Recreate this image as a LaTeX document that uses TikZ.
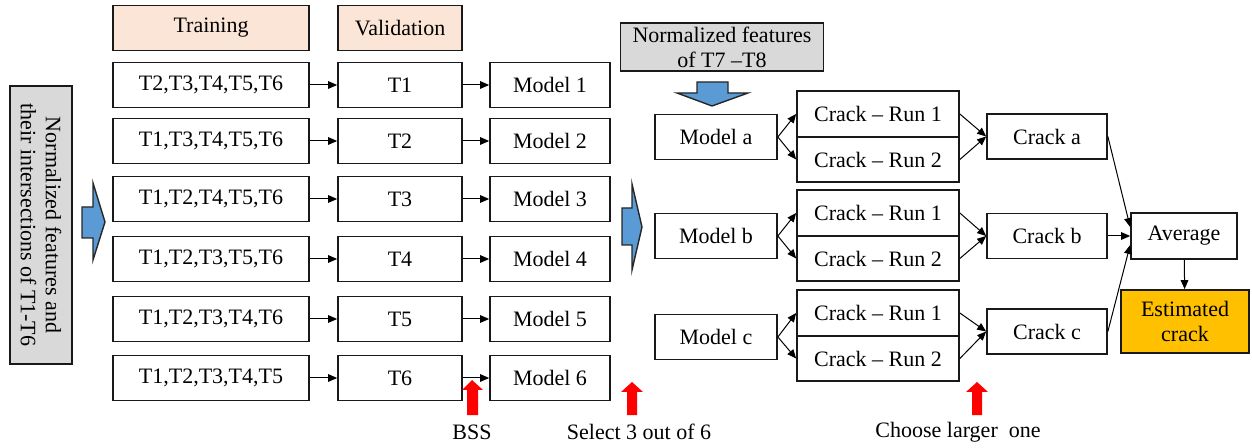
\documentclass[tikz,border=0pt]{standalone}
\usepackage{fontspec}
\setmainfont{Liberation Serif}
\usetikzlibrary{arrows.meta}

\definecolor{peach}{RGB}{251,229,214}
\definecolor{lgray}{RGB}{217,217,217}
\definecolor{blockblue}{RGB}{91,155,213}
\definecolor{gold}{RGB}{255,192,0}

\tikzset{
  box/.style={draw=black!90, line width=0.85pt, inner sep=0pt, align=center},
  trainbox/.style={box, minimum width=98pt, minimum height=22.5pt},
  valbox/.style={box, minimum width=62pt, minimum height=22.5pt},
  modelbox/.style={box, minimum width=60pt, minimum height=22.5pt},
  runbox/.style={box, minimum width=81pt, minimum height=22.75pt},
  link/.style={-{Triangle[length=4.5pt,width=3.8pt]}, line width=0.5pt},
  blockarrow/.style={fill=blockblue, draw=black!85, line width=0.7pt},
  redarrow/.style={fill=red, draw=none},
}

\begin{document}
\begin{tikzpicture}[x=0.5pt, y=-0.5pt, font=\fontsize{11}{12.5}\selectfont]
\useasboundingbox (0,0) rectangle (1252,448);

% input data
\node[box, fill=lgray, rotate=-90, minimum width=139pt, minimum height=31pt] (input) at (41,225)
  {Normalized features and\\their intersections of T1-T6};
\draw[blockarrow] (82,207) -- (93,207) -- (93,183) -- (105,222) -- (93,260) -- (93,238) -- (82,238) -- cycle;

% cross validation
\node[trainbox, fill=peach] (hdtrain) at (211,28) {Training};
\node[valbox, fill=peach] (hdval) at (400,28) {Validation};
\foreach \i/\y/\set in {1/85/{T2,T3,T4,T5,T6}, 2/141/{T1,T3,T4,T5,T6}, 3/199/{T1,T2,T4,T5,T6},
                        4/259/{T1,T2,T3,T5,T6}, 5/319/{T1,T2,T3,T4,T6}, 6/378/{T1,T2,T3,T4,T5}} {
  \node[trainbox] (tr\i) at (211,\y) {\set};
  \node[valbox] (va\i) at (400,\y) {T\i};
  \node[modelbox] (mo\i) at (550,\y) {Model \i};
  \draw[link] (tr\i) -- (va\i);
  \draw[link] (va\i) -- (mo\i);
}

% selection
\draw[blockarrow] (622,208) -- (632,208) -- (632,184) -- (642,227) -- (632,270) -- (632,245) -- (622,245) -- cycle;
\node[box, fill=lgray, minimum width=101.5pt, minimum height=24pt] (test) at (722,47)
  {Normalized features\\of T7 --T8};
\draw[blockarrow] (697,82) -- (728,82) -- (728,93) -- (748,93) -- (712,106) -- (677,93) -- (697,93) -- cycle;

% selected models and runs
\foreach \m/\y/\ya/\yb/\yc in {a/137/114/159.5/136.5, b/236/213/258.5/236, c/337/313/358.5/331.5} {
  \node[box, minimum width=61pt, minimum height=22.5pt] (sel\m) at (716,\y) {Model \m};
  \node[runbox] (run\m1) at (878,\ya) {Crack -- Run 1};
  \node[runbox] (run\m2) at (878,\yb) {Crack -- Run 2};
  \node[modelbox] (crk\m) at (1047,\yc) {Crack \m};
  \draw[link] (sel\m.east) -- (run\m1.west);
  \draw[link] (sel\m.east) -- (run\m2.west);
  \draw[link] (run\m1.east) -- (crk\m.west);
  \draw[link] (run\m2.east) -- (crk\m.west);
}

% averaging
\node[box, minimum width=53pt, minimum height=23pt] (avg) at (1184,236) {Average};
\node[box, fill=gold, minimum width=64pt, minimum height=31.5pt] (est) at (1185,321.5) {Estimated\\crack};
\draw[link] (crka.east) -- ([yshift=4.5pt]avg.west);
\draw[link] (crkb.east) -- (avg.west);
\draw[link] (crkc.east) -- ([yshift=-4.5pt]avg.west);
\draw[link] (avg) -- (est);

% notes
\draw[redarrow] (467,415) -- (467,390) -- (462,390) -- (472,380) -- (483,390) -- (478,390) -- (478,415) -- cycle;
\draw[redarrow] (627,415) -- (627,392) -- (621,392) -- (632,382) -- (643,392) -- (637,392) -- (637,415) -- cycle;
\draw[redarrow] (972,415) -- (972,392) -- (966,392) -- (977,382) -- (988,392) -- (982,392) -- (982,415) -- cycle;
\node (bss) at (472,432) {BSS};
\node (pick) at (639,432) {Select 3 out of 6};
\node (larger) at (958,432) {Choose larger~~one};
\end{tikzpicture}
\end{document}
